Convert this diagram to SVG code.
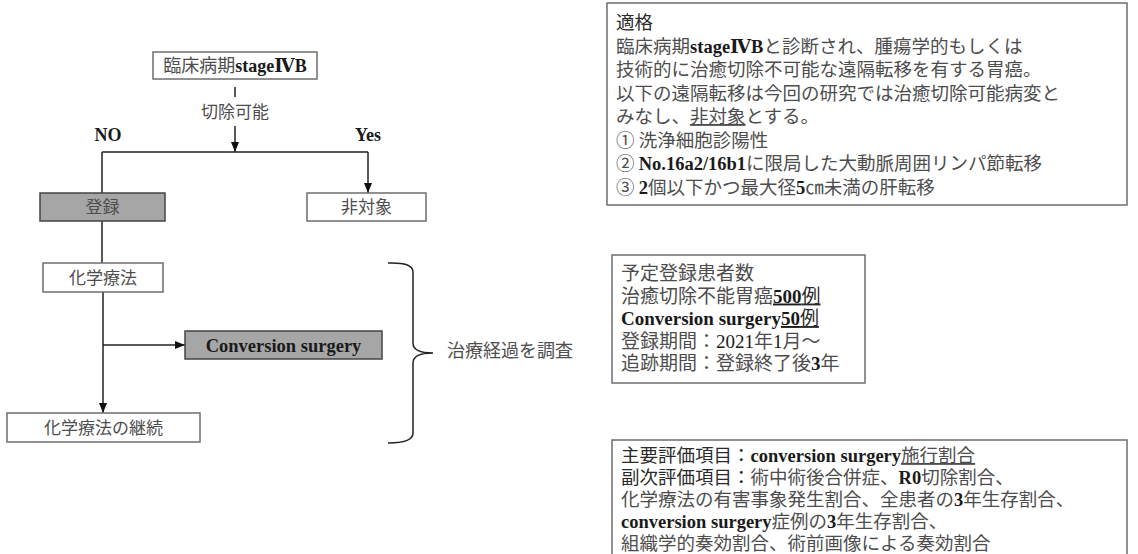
<svg xmlns="http://www.w3.org/2000/svg" width="1138" height="554" viewBox="0 0 1138 554">
<style>
.box{fill:#fff;stroke:#6e6e6e;stroke-width:1.5}
.gbox{fill:#a6a6a6;stroke:#444;stroke-width:1.5}
.jp{font-family:"Noto Sans CJK JP","Noto Sans",sans-serif;fill:#4d4d4d}
.jd{font-family:"Noto Sans CJK JP","Noto Sans",sans-serif;fill:#2a2a2a}
.se{font-family:"Liberation Serif","DejaVu Serif",serif;font-weight:bold;fill:#1a1a1a}
.sr{font-family:"Liberation Serif","DejaVu Serif",serif;fill:#1a1a1a}
.u{text-decoration:underline}
.ln{stroke:#222;stroke-width:1.5;fill:none}
</style>
<defs>
<marker id="ah" markerUnits="userSpaceOnUse" markerWidth="10" markerHeight="10" viewBox="0 0 10 10" refX="10" refY="5" orient="auto">
<path d="M0,1 L10,5 L0,9 Z" fill="#111"/>
</marker>
</defs>
<g id="connectors">
<line class="ln" x1="235" y1="87" x2="235" y2="97"/>
<line class="ln" x1="235" y1="126" x2="235" y2="152" marker-end="url(#ah)"/>
<line class="ln" x1="102" y1="152" x2="368" y2="152"/>
<line class="ln" x1="368" y1="152" x2="368" y2="193" marker-end="url(#ah)"/>
<line class="ln" x1="102" y1="152" x2="102" y2="193"/>
<line class="ln" x1="102" y1="221" x2="102" y2="263"/>
<line class="ln" x1="103" y1="292" x2="103" y2="413" marker-end="url(#ah)"/>
<line class="ln" x1="103" y1="345" x2="185" y2="345" marker-end="url(#ah)"/>
<path class="ln" d="M388,263 Q413,262 413,272 L413,343 Q413,353 433,353 Q413,353 413,363 L413,433 Q413,443 388,443"/>
<text class="jp" x="235" y="118" font-size="17" text-anchor="middle">切除可能</text>
<text class="se" x="108" y="141" font-size="18" text-anchor="middle">NO</text>
<text class="se" x="368" y="141" font-size="18" text-anchor="middle">Yes</text>
<text class="jp" x="447" y="357" font-size="18">治療経過を調査</text>
</g>
<g id="node-stage">
<rect class="box" x="153" y="52" width="164" height="27"/>
<text x="235" y="72" font-size="18" text-anchor="middle"><tspan class="jp">臨床病期</tspan><tspan class="se">stageⅣB</tspan></text>
</g>
<g id="node-exclude">
<rect class="box" x="307" y="193" width="119" height="28"/>
<text class="jp" x="366.5" y="213" font-size="17" text-anchor="middle">非対象</text>
</g>
<g id="node-register">
<rect class="gbox" x="40" y="193" width="125" height="28"/>
<text class="jp" x="102.5" y="213" font-size="17" text-anchor="middle">登録</text>
</g>
<g id="node-chemo">
<rect class="box" x="43" y="263" width="120" height="29"/>
<text class="jp" x="103" y="284" font-size="17" text-anchor="middle">化学療法</text>
</g>
<g id="node-conversion">
<rect class="gbox" x="185" y="331" width="197" height="28"/>
<text class="se" x="283.5" y="351.5" font-size="18.5" text-anchor="middle">Conversion surgery</text>
</g>
<g id="node-continue">
<rect class="box" x="7" y="413" width="193" height="29"/>
<text class="jp" x="103.5" y="434" font-size="17" text-anchor="middle">化学療法の継続</text>
</g>
<g id="node-eligibility">
<rect class="box" x="607" y="3" width="520" height="202"/>
<g font-size="18.5">
<text class="jd" x="616" y="29">適格</text>
<text x="616" y="52.5"><tspan class="jp">臨床病期</tspan><tspan class="se">stageⅣB</tspan><tspan class="jp">と診断され、腫瘍学的もしくは</tspan></text>
<text class="jp" x="616" y="76">技術的に治癒切除不可能な遠隔転移を有する胃癌。</text>
<text class="jp" x="616" y="99.5">以下の遠隔転移は今回の研究では治癒切除可能病変と</text>
<text class="jp" x="616" y="123">みなし、<tspan class="u">非対象</tspan>とする。</text>
<text class="jp" x="616" y="146.5">① 洗浄細胞診陽性</text>
<text x="616" y="170"><tspan class="jp">② </tspan><tspan class="se">No.16a2/16b1</tspan><tspan class="jp">に限局した大動脈周囲リンパ節転移</tspan></text>
<text x="616" y="193.5"><tspan class="jp">③ </tspan><tspan class="se">2</tspan><tspan class="jp">個以下かつ最大径</tspan><tspan class="se">5</tspan><tspan class="jp">㎝未満の肝転移</tspan></text>
</g>
</g>
<g id="node-enrollment">
<rect class="box" x="612" y="255" width="253" height="128"/>
<g font-size="19">
<text class="jp" x="621" y="280">予定登録患者数</text>
<text x="621" y="302.5"><tspan class="jp">治癒切除不能胃癌</tspan><tspan class="se u">500</tspan><tspan class="jd u">例</tspan></text>
<text x="621" y="325"><tspan class="se">Conversion surgery</tspan><tspan class="se u">50</tspan><tspan class="jd u">例</tspan></text>
<text x="621" y="347.5"><tspan class="jp">登録期間：</tspan><tspan class="sr">2021</tspan><tspan class="jp">年</tspan><tspan class="sr">1</tspan><tspan class="jp">月～</tspan></text>
<text x="621" y="370"><tspan class="jp">追跡期間：登録終了後</tspan><tspan class="se">3</tspan><tspan class="jp">年</tspan></text>
</g>
</g>
<g id="node-endpoints">
<path class="box" d="M612,560 L612,440 L1127,440 L1127,560"/>
<g font-size="18.5">
<text x="621" y="462"><tspan class="jd">主要評価項目：</tspan><tspan class="se">conversion surgery</tspan><tspan class="jp u">施行割合</tspan></text>
<text x="621" y="484"><tspan class="jd">副次評価項目：</tspan><tspan class="jp">術中術後合併症、</tspan><tspan class="se">R0</tspan><tspan class="jp">切除割合、</tspan></text>
<text x="621" y="506"><tspan class="jp">化学療法の有害事象発生割合、全患者の</tspan><tspan class="se">3</tspan><tspan class="jp">年生存割合、</tspan></text>
<text x="621" y="528"><tspan class="se">conversion surgery</tspan><tspan class="jp">症例の</tspan><tspan class="se">3</tspan><tspan class="jp">年生存割合、</tspan></text>
<text class="jp" x="621" y="550">組織学的奏効割合、術前画像による奏効割合</text>
</g>
</g>
</svg>
